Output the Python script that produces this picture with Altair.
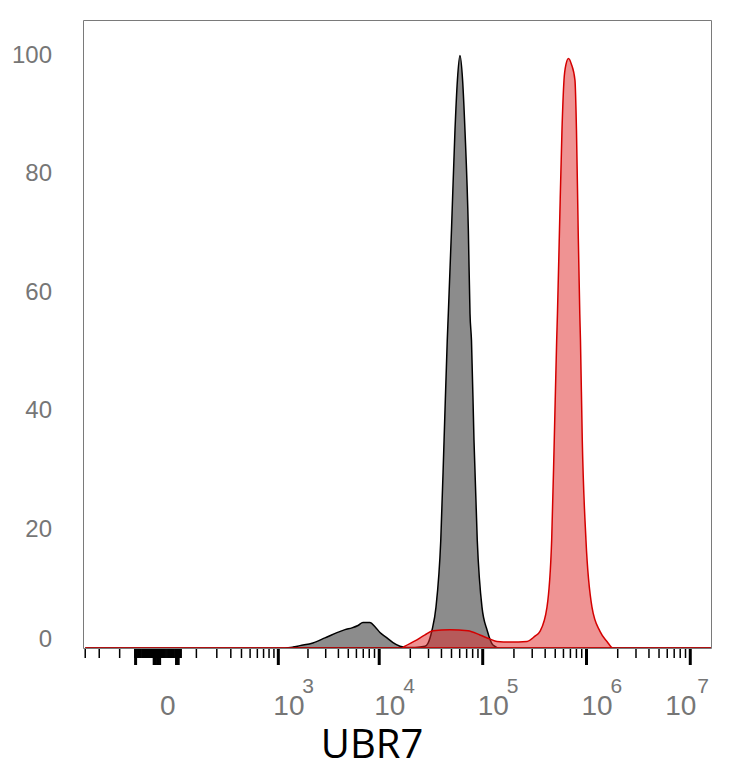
import altair as alt
import pandas as pd

# ---- data (UBR7 fluorescence, % of max) ----
gray_x = [-300, 1170, 1410, 1660, 2240, 2950, 3870, 4640, 5430, 6220, 6950, 8130,
          9100, 10170, 11890, 13600, 15890, 18170, 22200, 27730, 29650, 32410,
          35420, 39400, 42400, 45500, 46600, 49980, 54020, 57000, 60350, 64000,
          67440, 72700, 75400, 77930, 82370, 88600, 98400, 110300, 125600, 146700,
          15800000]
gray_y = [0, 0, 0.15, 0.4, 0.85, 1.7, 2.6, 3.1, 3.4, 3.8, 4.3, 4.3,
          3.6, 2.6, 1.7, 0.9, 0.3, 0.1, 0.1, 0.3, 0.8, 3.0,
          6.9, 18.2, 35.1, 51.9, 56.5, 70.5, 87.4, 95.8, 100, 95.8,
          87.4, 70.5, 56.5, 51.9, 35.1, 18.2, 6.9, 3.0, 0.5, 0,
          0]

red_x = [-300, 16620, 17770, 22200, 27730, 33140, 48350, 72090, 94120, 117600,
         137200, 183200, 267200, 319000, 356400, 416400, 462000, 489400, 516200,
         525400, 549300, 580700, 607000, 634500, 670700, 716800, 774800, 801000,
         831700, 861900, 875300, 910900, 988900, 1129800, 1349500, 1576000,
         1800000, 15800000]
red_y = [0, 0, 0.3, 1.2, 2.2, 2.9, 3.1, 2.9, 2.2, 1.5,
         1.1, 1.0, 1.1, 2.0, 2.8, 6.9, 18.2, 35.1, 51.9,
         56.5, 70.5, 87.4, 95.8, 98.5, 99.5, 98.5, 95.8, 87.4,
         70.5, 56.5, 51.9, 35.1, 18.2, 6.9, 2.8, 1.1,
         0, 0]

y_label_values = [20, 40, 60, 80, 100]
y_zero_value = [0]
major_ticks = [0, 1e3, 1e4, 1e5, 1e6, 1e7]
negative_ticks = [-300, -200, -100]
dense_zero_ticks = list(range(-50, 51, 2))
long_zero_ticks = [-50, -48, -46, -8, -6, -4, -2, 0, 2, 4, 36, 38, 40, 42, 44]
decade_ticks = [m * 10 ** k for k in range(2, 7) for m in range(1 if k == 2 else 2, 10)]
minor_ticks = negative_ticks + dense_zero_ticks + decade_ticks

pow_values = [1e3, 1e4, 1e5, 1e6]
pow_exps = ["3", "4", "5", "6"]
last_value = [1e7]
last_exp = ["7"]
zero_value = [0]
axis_title = "UBR7"

gray_df = pd.DataFrame({"x": gray_x, "count": gray_y})
red_df = pd.DataFrame({"x": red_x, "count": red_y})
minor_df = pd.DataFrame({"v": minor_ticks})
long_df = pd.DataFrame({"v": long_zero_ticks})
major_df = pd.DataFrame({"v": major_ticks})
pow_df = pd.DataFrame({"v": pow_values, "base": ["10"] * len(pow_values), "e": pow_exps})
last_df = pd.DataFrame({"v": last_value, "base": ["10"], "e": last_exp})
zero_df = pd.DataFrame({"v": zero_value, "t": ["0"]})
ylab_df = pd.DataFrame({"y": y_label_values, "t": [str(v) for v in y_label_values]})
yzero_df = pd.DataFrame({"y": y_zero_value, "t": ["0"]})
title_df = pd.DataFrame({"t": [axis_title]})

xscale = alt.Scale(type="symlog", constant=74.5, domain=[-319, 15840000], nice=False)
yscale = alt.Scale(domain=[0, 106], nice=False)

LABEL_COLOR = "#767676"
FONT = "Liberation Sans"


def X(field):
    return alt.X(field, scale=xscale, axis=None)


gray = alt.Chart(gray_df).mark_area(
    fill="#8c8c8c", stroke="black", strokeWidth=1.5, interpolate="monotone", clip=True
).encode(x=X("x:Q"), y=alt.Y("count:Q", scale=yscale, axis=None))

red = alt.Chart(red_df).mark_area(
    fill="#e02828", fillOpacity=0.5, stroke="#d40000", strokeWidth=1.5,
    interpolate="monotone", clip=True
).encode(x=X("x:Q"), y=alt.Y("count:Q", scale=yscale, axis=None))

minor = alt.Chart(minor_df).mark_rule(color="black", strokeWidth=1.5).encode(
    x=X("v:Q"), y=alt.value(629), y2=alt.value(638))
long_zero = alt.Chart(long_df).mark_rule(color="black", strokeWidth=1.5).encode(
    x=X("v:Q"), y=alt.value(629), y2=alt.value(645))
major = alt.Chart(major_df).mark_rule(color="black", strokeWidth=3).encode(
    x=X("v:Q"), y=alt.value(629), y2=alt.value(645))

base_txt = alt.Chart(pow_df).mark_text(
    align="left", baseline="middle", dx=-5, fontSize=28, font=FONT, color=LABEL_COLOR
).encode(x=X("v:Q"), y=alt.value(687), text="base:N")
exp_txt = alt.Chart(pow_df).mark_text(
    align="left", baseline="middle", dx=24, fontSize=21, font=FONT, color=LABEL_COLOR
).encode(x=X("v:Q"), y=alt.value(667), text="e:N")
last_base = alt.Chart(last_df).mark_text(
    align="left", baseline="middle", dx=-25, fontSize=28, font=FONT, color=LABEL_COLOR
).encode(x=X("v:Q"), y=alt.value(687), text="base:N")
last_exp_txt = alt.Chart(last_df).mark_text(
    align="left", baseline="middle", dx=7, fontSize=21, font=FONT, color=LABEL_COLOR
).encode(x=X("v:Q"), y=alt.value(667), text="e:N")
zero_txt = alt.Chart(zero_df).mark_text(
    align="left", baseline="middle", dx=2, fontSize=28, font=FONT, color=LABEL_COLOR
).encode(x=X("v:Q"), y=alt.value(687), text="t:N")

ylabels = alt.Chart(ylab_df).mark_text(
    align="right", baseline="middle", fontSize=24, font=FONT, color=LABEL_COLOR
).encode(x=alt.value(-31), y=alt.Y("y:Q", scale=yscale, axis=None), text="t:N")
yzero = alt.Chart(yzero_df).mark_text(
    align="right", baseline="alphabetic", dy=-1, fontSize=24, font=FONT, color=LABEL_COLOR
).encode(x=alt.value(-31), y=alt.Y("y:Q", scale=yscale, axis=None), text="t:N")

title = alt.Chart(title_df).mark_text(
    align="center", baseline="top", fontSize=40, font="Open Sans", color="black"
).encode(x=alt.value(289), y=alt.value(706), text="t:N")

chart = alt.layer(
    gray, red, minor, long_zero, major, base_txt, exp_txt, last_base, last_exp_txt,
    zero_txt, ylabels, yzero, title
).properties(
    width=628, height=628,
    padding={"left": 75, "top": 12, "right": 15, "bottom": 112},
    autosize="none",
    background="white",
).configure_view(
    stroke="#7a7a7a", strokeWidth=1
)

chart.save("out.html", embed_options={"renderer": "svg", "actions": False})
